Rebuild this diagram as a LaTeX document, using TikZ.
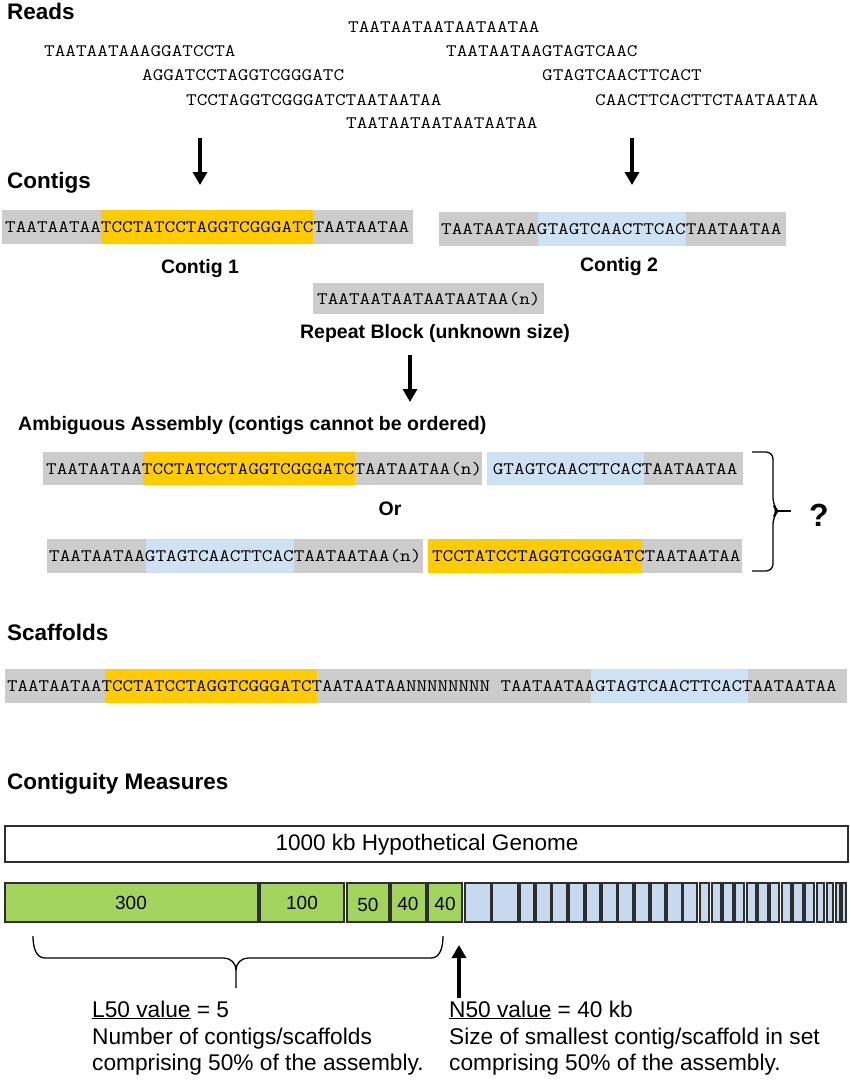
\documentclass[tikz,border=0pt]{standalone}
\usepackage{fontspec}
\setmainfont{Liberation Sans}
\usetikzlibrary{arrows.meta}
\definecolor{seqgray}{HTML}{CCCCCC}
\definecolor{seqyellow}{HTML}{FFCC00}
\definecolor{seqblue}{HTML}{CFE2F3}
\definecolor{bargreen}{HTML}{A2D45E}
\definecolor{barblue}{HTML}{C6D9EE}
\definecolor{barline}{HTML}{2E2E2E}
\newcommand\seqtxt[1]{\scalebox{1.18}[1]{\fontsize{17.5pt}{17.5pt}\selectfont\ttfamily #1}}
\newcommand\scaftxt[1]{\scalebox{1.165}[1]{\fontsize{17.5pt}{17.5pt}\selectfont\ttfamily #1}}
\tikzset{
  heading/.style={font=\bfseries\fontsize{22.5pt}{22.5pt}\selectfont, anchor=base west, inner sep=0pt},
  subheading/.style={font=\bfseries\fontsize{19.5pt}{19.5pt}\selectfont, anchor=base west, inner sep=0pt},
  caplabel/.style={font=\bfseries\fontsize{19.5pt}{19.5pt}\selectfont, inner sep=0pt},
  seq/.style={anchor=west, inner sep=0pt, text height=10pt, text depth=0pt},
  gfill/.style={fill=seqgray},
  yfill/.style={fill=seqyellow},
  bfill/.style={fill=seqblue},
  bigarrow/.style={line width=3.5pt, -{Triangle[width=14pt,length=13pt]}},
  gbar/.style={fill=bargreen, draw=barline, line width=1.4pt},
  bbar/.style={fill=barblue, draw=barline, line width=1.4pt},
  barnum/.style={font=\fontsize{19pt}{19pt}\selectfont, inner sep=0pt},
  bodytext/.style={font=\fontsize{22.7pt}{22.7pt}\selectfont, anchor=base west, inner sep=0pt},
  bracestyle/.style={line width=1.3pt, rounded corners=7pt},
}
\begin{document}
\begin{tikzpicture}[x=1pt, y=-1pt]
\useasboundingbox[fill=white] (0,0) rectangle (850,1080);

% ---------- Reads ----------
\node[heading] (hreads) at (7,19) {Reads};
\node[seq] (r1) at (348,27) {\seqtxt{TAATAATAATAATAATAA}};
\node[seq] (r2) at (44,51) {\seqtxt{TAATAATAAAGGATCCTA}};
\node[seq] (r3) at (446,51) {\seqtxt{TAATAATAAGTAGTCAAC}};
\node[seq] (r4) at (142,75) {\seqtxt{AGGATCCTAGGTCGGGATC}};
\node[seq] (r5) at (542,75) {\seqtxt{GTAGTCAACTTCACT}};
\node[seq] (r6) at (186,100) {\seqtxt{TCCTAGGTCGGGATCTAATAATAA}};
\node[seq] (r7) at (595,100) {\seqtxt{CAACTTCACTTCTAATAATAA}};
\node[seq] (r8) at (346,123) {\seqtxt{TAATAATAATAATAATAA}};

\coordinate (a1s) at (200,138); \coordinate (a1e) at (200,185);
\coordinate (a2s) at (632,138); \coordinate (a2e) at (632,185);
\draw[bigarrow] (a1s) -- (a1e);
\draw[bigarrow] (a2s) -- (a2e);

% ---------- Contigs ----------
\node[heading] (hcontigs) at (7,188) {Contigs};
\path[gfill] (2,210) rectangle (413,244);
\path[yfill] (101,210) rectangle (313,244);
\node[seq] (c1) at (5,227) {\seqtxt{TAATAATAATCCTATCCTAGGTCGGGATCTAATAATAA}};
\node[caplabel] (lc1) at (200,268) {Contig 1};

\path[gfill] (439,212) rectangle (786,246);
\path[bfill] (538,212) rectangle (686,246);
\node[seq] (c2) at (441,229) {\seqtxt{TAATAATAAGTAGTCAACTTCACTAATAATAA}};
\node[caplabel] (lc2) at (619,266) {Contig 2};

\path[gfill] (313,283) rectangle (544,314);
\node[seq] (rep) at (317,299) {\seqtxt{TAATAATAATAATAATAA(n)}};
\node[caplabel] (lrep) at (435,333) {Repeat Block (unknown size)};

\coordinate (a3s) at (410,355); \coordinate (a3e) at (410,402);
\draw[bigarrow] (a3s) -- (a3e);

% ---------- Ambiguous assembly ----------
\node[subheading] (hamb) at (18,430) {Ambiguous Assembly (contigs cannot be ordered)};
\path[gfill] (43,452) rectangle (743,485);
\path[yfill] (143,452) rectangle (355,485);
\path[fill=white] (482,452) rectangle (487,485);
\path[bfill] (487,452) rectangle (644,485);
\node[seq] (amb1) at (46,469) {\seqtxt{TAATAATAATCCTATCCTAGGTCGGGATCTAATAATAA(n) GTAGTCAACTTCACTAATAATAA}};
\node[caplabel] (lor) at (390,509) {Or};
\path[gfill] (47,539) rectangle (742,573);
\path[bfill] (146,539) rectangle (294,573);
\path[fill=white] (423,539) rectangle (428,573);
\path[yfill] (428,539) rectangle (642,573);
\node[seq] (amb2) at (49,556) {\seqtxt{TAATAATAAGTAGTCAACTTCACTAATAATAA(n) TCCTATCCTAGGTCGGGATCTAATAATAA}};

\coordinate (bt) at (752,452); \coordinate (bb) at (752,571);
\draw[bracestyle] (bt) -- (773,452) -- (773,505) -- (778,511) -- (773,517) -- (773,571) -- (bb);
\draw[line width=1.3pt] (776,511) -- (791,511);
\node[font=\bfseries\fontsize{32pt}{32pt}\selectfont, inner sep=0pt] (qm) at (819,515) {?};

% ---------- Scaffolds ----------
\node[heading] (hscaf) at (7,640) {Scaffolds};
\path[gfill] (5,669) rectangle (847,703);
\path[yfill] (105,669) rectangle (317,703);
\path[bfill] (591,669) rectangle (748,703);
\node[seq] (scaf) at (7,686) {\scaftxt{TAATAATAATCCTATCCTAGGTCGGGATCTAATAATAANNNNNNNN TAATAATAAGTAGTCAACTTCACTAATAATAA}};

% ---------- Contiguity measures ----------
\node[heading] (hcont) at (7,789) {Contiguity Measures};
\draw[draw=barline, line width=1.4pt] (5,826) rectangle (848,862);
\node[font=\fontsize{22.5pt}{22.5pt}\selectfont, inner sep=0pt] (genome) at (427,845) {1000 kb Hypothetical Genome};

\draw[gbar] (5,883) rectangle (258,922);
\draw[gbar] (260,883) rectangle (344,922);
\draw[gbar] (347,883) rectangle (389,922);
\draw[gbar] (391,883) rectangle (426,922);
\draw[gbar] (428,883) rectangle (462,922);
\node[barnum] (n300) at (131,903) {300};
\node[barnum] (n100) at (302,903) {100};
\node[barnum] (n50) at (368,905) {50};
\node[barnum] (n40a) at (408,904) {40};
\node[barnum] (n40b) at (445,904) {40};

\foreach \a/\b in {465/491,492/518,520/534,536/551,552/567,569/584,586/600,602/617,618/633,635/649,651/665,667/682,683/697,700/709,712/721,723/733,735/744,747/756,758/768,770/779,782/791,793/803,805/814,817/824,827/833,836/840,842/846}
  \draw[bbar] (\a,883) rectangle (\b,922);

% brace under the first five contigs
\coordinate (brl) at (33,936); \coordinate (brr) at (443,936); \coordinate (brt) at (236,988);
\draw[line width=1.3pt] (brl) to[out=-90,in=180] (45,958) -- (224,958) to[out=0,in=90] (236,970) -- (brt);
\draw[line width=1.3pt] (236,970) to[out=90,in=180] (248,958) -- (431,958) to[out=0,in=-90] (brr);

\coordinate (a4s) at (459,998); \coordinate (a4e) at (459,945);
\draw[bigarrow] (a4s) -- (a4e);

\node[bodytext] (l50a) at (92,1017) {\underline{L50 value} = 5};
\node[bodytext] (l50b) at (92,1044) {Number of contigs/scaffolds};
\node[bodytext] (l50c) at (92,1070) {comprising 50\% of the assembly.};
\node[bodytext] (n50a) at (449,1017) {\underline{N50 value} = 40 kb};
\node[bodytext] (n50b) at (449,1044) {Size of smallest contig/scaffold in set};
\node[bodytext] (n50c) at (449,1070) {comprising 50\% of the assembly.};
\end{tikzpicture}
\end{document}
